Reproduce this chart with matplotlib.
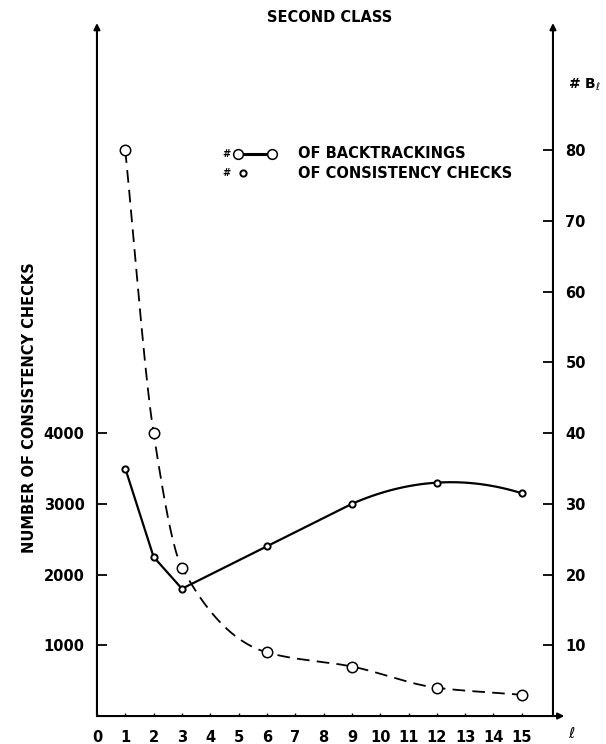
import numpy as np
import matplotlib
matplotlib.use("Agg")
import matplotlib.pyplot as plt
from matplotlib.lines import Line2D

# data
levels = [1, 2, 3, 6, 9, 12, 15]
backtrackings = [80, 40, 21, 9, 7, 4, 3]
checks = [3500, 2250, 1800, 2400, 3000, 3300, 3150]

x_ticks = list(range(0, 16))
left_ticks = [1000, 2000, 3000, 4000]
right_ticks = [10, 20, 30, 40, 50, 60, 70, 80]


def pchip(x, y, xs):
    # monotone cubic through the measured points, only for drawing the curve
    x = np.asarray(x, float)
    y = np.asarray(y, float)
    h = np.diff(x)
    d = np.diff(y) / h
    m = np.zeros_like(y)
    m[0], m[-1] = d[0], d[-1]
    for k in range(1, len(x) - 1):
        if d[k - 1] * d[k] > 0:
            w1 = 2 * h[k] + h[k - 1]
            w2 = h[k] + 2 * h[k - 1]
            m[k] = (w1 + w2) / (w1 / d[k - 1] + w2 / d[k])
    idx = np.clip(np.searchsorted(x, xs) - 1, 0, len(x) - 2)
    t = (xs - x[idx]) / h[idx]
    h00 = 2 * t**3 - 3 * t**2 + 1
    h10 = t**3 - 2 * t**2 + t
    h01 = -2 * t**3 + 3 * t**2
    h11 = t**3 - t**2
    return (h00 * y[idx] + h10 * h[idx] * m[idx]
            + h01 * y[idx + 1] + h11 * h[idx] * m[idx + 1])


plt.rcParams["font.family"] = ["DejaVu Sans"]

fig = plt.figure(figsize=(6.06, 7.44), dpi=100)
ax = fig.add_axes([0.160, 0.0376, 0.7525, 0.9315])
ax2 = ax.twinx()

ax.set_xlim(0, 16.1)
ax.set_ylim(0, 9800)
ax2.set_ylim(0, 98)

# consistency checks: straight segments, then a smooth bend over the last points
ax.plot(levels[:5], checks[:5], color="black", lw=1.6)
coef = np.polyfit(levels[4:], checks[4:], 2)
xs_tail = np.linspace(levels[4], levels[-1], 60)
ax.plot(xs_tail, np.polyval(coef, xs_tail), color="black", lw=1.6)
ax.plot(levels, checks, "o", color="black", ms=4.5, mfc="white", mew=1.4)

# backtrackings: dashed smooth curve
xs = np.linspace(levels[0], levels[-1], 300)
ax2.plot(xs, pchip(levels, backtrackings, xs), color="black", lw=1.3,
         dashes=(7, 4))
ax2.plot(levels, backtrackings, "o", color="black", ms=7.5, mfc="white",
         mew=1.1)

for a in (ax, ax2):
    for s in a.spines.values():
        s.set_visible(False)

ax.set_xticks(x_ticks)
ax.set_xticklabels([str(v) for v in x_ticks], fontweight="bold")
ax.set_yticks(left_ticks)
ax.set_yticklabels([str(v) for v in left_ticks], fontweight="bold")
ax2.set_yticks(right_ticks)
ax2.set_yticklabels([str(v) for v in right_ticks], fontweight="bold")

ax.tick_params(axis="x", direction="in", length=2, width=1, pad=10,
               labelsize=10.5)
ax.tick_params(axis="y", direction="in", length=7, width=1.3, pad=9,
               labelsize=10.5)
ax2.tick_params(axis="y", direction="in", length=7, width=1.3, pad=9,
                labelsize=10.5)

# axis lines with arrow heads
arrow = dict(arrowstyle="-|>", lw=1.5, color="black", mutation_scale=9,
             shrinkA=0, shrinkB=0)
ax.annotate("", xy=(0, 1), xytext=(0, 0), xycoords="axes fraction",
            arrowprops=arrow, annotation_clip=False)
ax.annotate("", xy=(1, 1), xytext=(1, 0), xycoords="axes fraction",
            arrowprops=arrow, annotation_clip=False)
ax.annotate("", xy=(1.025, 0), xytext=(0, 0), xycoords="axes fraction",
            arrowprops=arrow, annotation_clip=False)

# texts
fig.text(330 / 606, 1 - 17 / 744, "SECOND CLASS", ha="center", va="center",
         fontsize=10.5, fontweight="bold")
fig.text(30 / 606, 1 - 408 / 744, "NUMBER OF CONSISTENCY CHECKS",
         rotation=90, ha="center", va="center", fontsize=10.5,
         fontweight="bold")
fig.text(568 / 606, 1 - 85 / 744, r"# B$_{\ell}$", ha="left", va="center",
         fontsize=10, fontweight="bold")
fig.text(572 / 606, 1 - 733 / 744, r"$\ell$", ha="center", va="center",
         fontsize=11)

# legend drawn by hand like the original
y1 = 1 - 154 / 744
y2 = 1 - 173 / 744
fig.text(222 / 606, y1, "#", ha="left", va="center", fontsize=7,
         fontweight="bold")
fig.text(222 / 606, y2, "#", ha="left", va="center", fontsize=7,
         fontweight="bold")
fig.add_artist(Line2D([238 / 606, 272 / 606], [y1, y1], color="black",
                      lw=2.2, marker="o", ms=7, mfc="white", mew=1.1))
fig.add_artist(Line2D([243 / 606], [y2], color="black", marker="o",
                      ms=4.5, mfc="white", mew=1.4))
fig.text(298 / 606, y1, "OF BACKTRACKINGS", ha="left", va="center",
         fontsize=10.5, fontweight="bold")
fig.text(298 / 606, y2, "OF CONSISTENCY CHECKS", ha="left", va="center",
         fontsize=10.5, fontweight="bold")

fig.savefig("out.png", dpi=100)
